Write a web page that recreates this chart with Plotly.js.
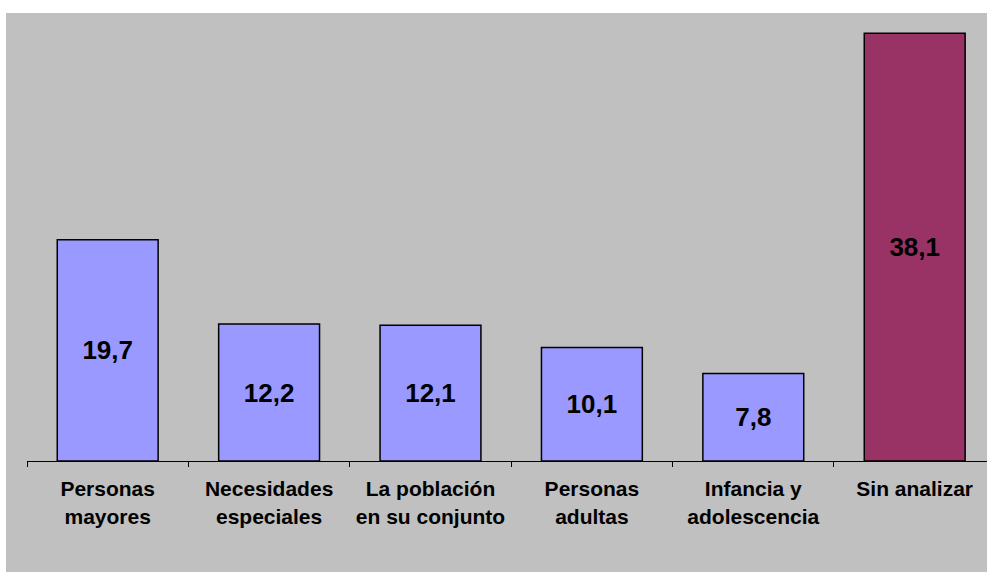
<!DOCTYPE html>
<html><head><meta charset="utf-8">
<script src="https://cdn.plot.ly/plotly-3.0.1.min.js"></script>
<style>html,body{margin:0;padding:0;background:#fff}#c{width:987px;height:572px}</style>
</head><body><div id="c"></div>
<script>
const categories = ["Personas<br>mayores", "Necesidades<br>especiales", "La población<br>en su conjunto", "Personas<br>adultas", "Infancia y<br>adolescencia", "Sin analizar"];
const values = [19.7, 12.2, 12.1, 10.1, 7.8, 38.1];
const barColors = ["#9999FF", "#9999FF", "#9999FF", "#9999FF", "#9999FF", "#993366"];
const fontFam = "Liberation Sans, Arial, sans-serif";

const trace = {
  type: "bar",
  x: categories,
  y: values,
  marker: {color: barColors, line: {color: "#000", width: 1.5}},
  texttemplate: "%{y:.1f}",
  textposition: "inside",
  insidetextanchor: "middle",
  textangle: 0,
  textfont: {family: fontFam, size: 26, color: "#000", weight: "bold"},
  hoverinfo: "none"
};

const layout = {
  width: 987, height: 572,
  margin: {l: 27, r: 0, t: 13, b: 111},
  paper_bgcolor: "#FFFFFF",
  plot_bgcolor: "#C0C0C0",
  separators: ",.",
  bargap: 0.375,
  showlegend: false,
  shapes: [{type: "rect", xref: "paper", yref: "paper", layer: "below",
    x0: -21/960, x1: 1, y0: -111/448, y1: 1, fillcolor: "#C0C0C0", line: {width: 0}}],
  xaxis: {
    type: "category",
    range: [-0.5, 5.448],
    showline: true, linecolor: "#000", linewidth: 1,
    ticks: "outside", tickson: "boundaries", ticklen: 5, tickcolor: "#000", tickwidth: 1,
    ticklabelstandoff: 9,
    tickfont: {family: fontFam, size: 21, color: "#000", weight: "bold"},
    showgrid: false, zeroline: false, fixedrange: true
  },
  yaxis: {
    range: [0, 39.9], visible: false, showgrid: false, zeroline: false, fixedrange: true
  }
};
Plotly.newPlot("c", [trace], layout, {staticPlot: true, displayModeBar: false});
</script></body></html>
